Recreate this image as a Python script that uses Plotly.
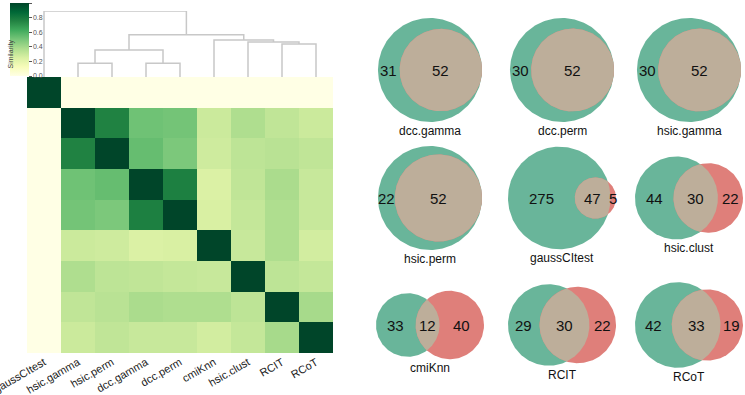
import math
import numpy as np
import plotly.graph_objects as go

# ---------------- data ----------------
methods = ["gaussCItest", "hsic.gamma", "hsic.perm", "dcc.gamma", "dcc.perm",
           "cmiKnn", "hsic.clust", "RCIT", "RCoT"]
similarity = [
    [1.00, 0.00, 0.00, 0.00, 0.00, 0.00, 0.00, 0.00, 0.00],
    [0.00, 1.00, 0.76, 0.52, 0.51, 0.29, 0.37, 0.32, 0.29],
    [0.00, 0.76, 1.00, 0.54, 0.49, 0.28, 0.33, 0.34, 0.32],
    [0.00, 0.52, 0.54, 1.00, 0.77, 0.24, 0.32, 0.38, 0.30],
    [0.00, 0.51, 0.49, 0.77, 1.00, 0.25, 0.31, 0.37, 0.30],
    [0.00, 0.29, 0.28, 0.24, 0.25, 1.00, 0.30, 0.37, 0.27],
    [0.00, 0.37, 0.33, 0.32, 0.31, 0.30, 1.00, 0.33, 0.31],
    [0.00, 0.32, 0.34, 0.38, 0.37, 0.37, 0.33, 1.00, 0.39],
    [0.00, 0.29, 0.32, 0.30, 0.30, 0.27, 0.31, 0.39, 1.00],
]
colorbar_ticks = [0.0, 0.2, 0.4, 0.6, 0.8, 1.0]

# dendrogram linkage (children: leaf names or "#k" = k-th merge), heights
merge_a = ["hsic.gamma", "dcc.gamma", "RCIT", "hsic.clust", "cmiKnn", "#0", "#5", "gaussCItest"]
merge_b = ["hsic.perm", "dcc.perm", "RCoT", "#2", "#3", "#1", "#4", "#6"]
merge_h = [0.21, 0.21, 0.50, 0.53, 0.56, 0.41, 0.64, 1.00]

# Venn diagrams: method set (green) vs reference set (red)
venn_names = ["dcc.gamma", "dcc.perm", "hsic.gamma",
              "hsic.perm", "gaussCItest", "hsic.clust",
              "cmiKnn", "RCIT", "RCoT"]
venn_only_method = [31, 30, 30, 22, 275, 44, 33, 29, 42]
venn_both = [52, 52, 52, 52, 47, 30, 12, 30, 33]
venn_only_ref = [0, 0, 0, 0, 5, 22, 40, 22, 19]

# ---------------- layout constants ----------------
W, H = 745, 395
hm_left, hm_right, hm_top, hm_bottom = 27, 333, 77, 353
dendro_top = 11
col_centers = [430, 562, 689]
row_centers = [70, 198, 325]
box_w, box_h = 108, 104
GREEN = "#69b59a"
RED = "#df7f7a"
BEIGE = "#bdae9a"

fig = go.Figure()

# ---------------- heatmap ----------------
fig.add_trace(go.Heatmap(
    z=similarity, x=methods, y=methods, zmin=0, zmax=1,
    colorscale="YlGn", xaxis="x", yaxis="y", hoverinfo="skip",
    colorbar=dict(
        xref="container", yref="container", x=10 / W, xanchor="left",
        y=1 - 3 / H, yanchor="top", lenmode="pixels", len=73, thickness=19,
        xpad=0, ypad=0, outlinewidth=0, tickvals=colorbar_ticks, tickformat=".1f",
        ticks="outside", ticklen=3, tickcolor="#555", tickwidth=1,
        tickfont=dict(size=7, color="#555", family="Liberation Sans"),
    ),
))

# ---------------- dendrogram ----------------
leaf_pos = {n: i for i, n in enumerate(methods)}
nodes = {}
dx, dy = [], []
def node_xy(ref):
    if ref.startswith("#"):
        return nodes[int(ref[1:])]
    return (leaf_pos[ref], 0.0)
for k, (a, b, h) in enumerate(zip(merge_a, merge_b, merge_h)):
    xa, ya = node_xy(a)
    xb, yb = node_xy(b)
    dx += [xa, xa, xb, xb, None]
    dy += [ya, h, h, yb, None]
    nodes[k] = ((xa + xb) / 2, h)
fig.add_trace(go.Scatter(x=dx, y=dy, mode="lines", xaxis="x2", yaxis="y2",
                         line=dict(color="#c8c8c8", width=1.5), hoverinfo="skip",
                         cliponaxis=False, showlegend=False))

# ---------------- venn diagrams ----------------
def lens_area(r1, r2, d):
    if d >= r1 + r2:
        return 0.0
    if d <= abs(r1 - r2):
        return math.pi * min(r1, r2) ** 2
    a1 = r1 ** 2 * math.acos((d * d + r1 * r1 - r2 * r2) / (2 * d * r1))
    a2 = r2 ** 2 * math.acos((d * d + r2 * r2 - r1 * r1) / (2 * d * r2))
    a3 = 0.5 * math.sqrt(max(0.0, (-d + r1 + r2) * (d + r1 - r2) * (d - r1 + r2) * (d + r1 + r2)))
    return a1 + a2 - a3

def solve_d(r1, r2, target):
    lo, hi = abs(r1 - r2), r1 + r2
    if target >= math.pi * min(r1, r2) ** 2 - 1e-9:
        return lo
    for _ in range(100):
        mid = (lo + hi) / 2
        if lens_area(r1, r2, mid) > target:
            lo = mid
        else:
            hi = mid
    return (lo + hi) / 2

def circle_pts(cx, cy, r, a0=0, a1=2 * math.pi, n=200):
    t = np.linspace(a0, a1, n)
    return list(cx + r * np.cos(t)), list(cy - r * np.sin(t))

def poly(xs, ys, color):
    fig.add_trace(go.Scatter(x=xs, y=ys, mode="lines", fill="toself", fillcolor=color,
                             line=dict(width=0, color=color), xaxis="x3", yaxis="y3",
                             hoverinfo="skip", showlegend=False))

ann = []
for i, name in enumerate(venn_names):
    na = venn_only_method[i] + venn_both[i]
    nb = venn_only_ref[i] + venn_both[i]
    r1 = math.sqrt(na / math.pi)
    r2 = math.sqrt(nb / math.pi)
    d = solve_d(r1, r2, venn_both[i])
    left = -r1
    right = max(r1, d + r2)
    half_h = max(r1, r2)
    s = min(box_w / (right - left), box_h / (2 * half_h))
    cxc = col_centers[i % 3]
    cyc = row_centers[i // 3]
    off = cxc - s * (left + right) / 2
    ax_, bx_ = off, off + s * d
    R1, R2 = s * r1, s * r2
    # circles
    x, y = circle_pts(ax_, cyc, R1); poly(x, y, GREEN)
    x, y = circle_pts(bx_, cyc, R2); poly(x, y, RED)
    subset = (d + r2 <= r1 + 1e-9)
    if subset:
        x, y = circle_pts(bx_, cyc, R2); poly(x, y, BEIGE)
        lens_l, lens_r = bx_ - R2, bx_ + R2
    else:
        D = s * d
        xi = (D * D + R1 * R1 - R2 * R2) / (2 * D)
        hh = math.sqrt(max(0.0, R1 * R1 - xi * xi))
        ta = math.atan2(hh, xi)
        tb = math.atan2(hh, xi - D)
        x1, y1 = circle_pts(ax_, cyc, R1, -ta, ta, 120)
        x2, y2 = circle_pts(bx_, cyc, R2, tb, 2 * math.pi - tb, 120)
        poly(x1 + x2, y1 + y2, BEIGE)
        lens_l, lens_r = bx_ - R2, ax_ + R1
    numfont = dict(size=15, color="#111", family="Liberation Sans")
    ann.append(dict(x=(ax_ - R1 + lens_l) / 2, y=cyc, text=str(venn_only_method[i]),
                    xref="x3", yref="y3", showarrow=False, font=numfont))
    ann.append(dict(x=(lens_l + lens_r) / 2, y=cyc, text=str(venn_both[i]),
                    xref="x3", yref="y3", showarrow=False, font=numfont))
    if venn_only_ref[i] > 0:
        ann.append(dict(x=(lens_r + bx_ + R2) / 2, y=cyc, text=str(venn_only_ref[i]),
                        xref="x3", yref="y3", showarrow=False, font=numfont))
    ann.append(dict(x=cxc, y=cyc + s * half_h + 9, text=name, xref="x3", yref="y3",
                    showarrow=False, font=dict(size=12, color="#111", family="Liberation Sans")))

ann.append(dict(x=5 / W, y=1 - 38 / H, xref="paper", yref="paper", text="Similarity",
                textangle=-90, showarrow=False,
                font=dict(size=7, color="#444", family="Liberation Sans")))

fig.update_layout(
    width=W, height=H, margin=dict(l=0, r=0, t=0, b=0, autoexpand=False),
    paper_bgcolor="white", plot_bgcolor="rgba(0,0,0,0)", showlegend=False,
    xaxis=dict(domain=[hm_left / W, hm_right / W], showgrid=False, zeroline=False,
               tickangle=-30, ticks="", showline=False, automargin=False,
               tickfont=dict(size=11, color="#222", family="Liberation Sans")),
    yaxis=dict(domain=[1 - hm_bottom / H, 1 - hm_top / H], showgrid=False, zeroline=False,
               autorange="reversed", showticklabels=False, ticks=""),
    xaxis2=dict(domain=[hm_left / W, hm_right / W], range=[-0.5, len(methods) - 0.5],
                visible=False, anchor="y2"),
    yaxis2=dict(domain=[1 - hm_top / H, 1 - dendro_top / H], range=[0, 1.0],
                visible=False, anchor="x2"),
    xaxis3=dict(domain=[0, 1], range=[0, W], visible=False, anchor="y3"),
    yaxis3=dict(domain=[0, 1], range=[H, 0], visible=False, anchor="x3"),
    annotations=ann,
)

fig.write_html("out.html", config={"displayModeBar": False},
               post_script="document.body.style.margin='0';document.body.style.overflow='hidden';")
